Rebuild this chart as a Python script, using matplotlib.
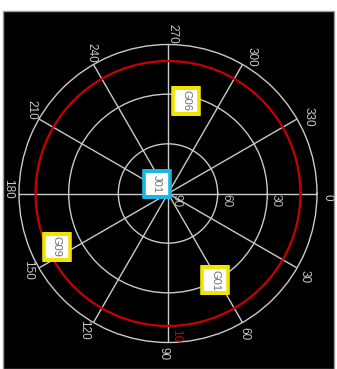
import numpy as np
import matplotlib
matplotlib.use("Agg")
import matplotlib.pyplot as plt
from matplotlib.patches import Rectangle

# Satellite positions (azimuth / elevation in degrees)
sat_names = ["J01", "G06", "G01", "G09"]
sat_azimuth = [221, 281, 61.5, 154.5]
sat_elevation = [81, 33, 30.5, 15.5]
sat_edge = ["#19b6e6", "#f2e400", "#f2e400", "#f2e400"]

elevation_mask = 10
azimuth_ticks = list(range(0, 360, 30))
elevation_ticks = [90, 60, 30]

W, H = 337, 369
fig = plt.figure(figsize=(W / 100, H / 100), dpi=100)
fig.patch.set_facecolor("white")

# black panel behind the sky plot
fig.patches.append(Rectangle((3 / W, 0), (334 - 3) / W, (358) / H,
                             transform=fig.transFigure, facecolor="black",
                             edgecolor="#9a9a9a", linewidth=1.0, zorder=-10))

cx, cy, R = 168.0, 193.5, 149.0
ax = fig.add_axes([(cx - R) / W, (H - cy - R) / H, 2 * R / W, 2 * R / H],
                  projection="polar")
ax.set_zorder(5)
ax.set_facecolor("none")
ax.set_theta_zero_location("E")
ax.set_theta_direction(-1)
ax.set_ylim(0, 90)

grid_c = "#cacaca"
ax.set_thetagrids(azimuth_ticks, labels=[])
ax.set_rgrids([30, 60], labels=[])
ax.grid(True, color=grid_c, linewidth=1.0)
ax.spines["polar"].set_color(grid_c)
ax.spines["polar"].set_linewidth(1.0)

font = "Liberation Sans"

# azimuth labels
for az in azimuth_ticks:
    ax.text(np.deg2rad(az + 1.5), 96.5, str(az), rotation=-90,
            ha="center", va="center", color=grid_c, fontsize=8.5,
            family=font, clip_on=False)

# elevation labels along the 0° spoke
for el in elevation_ticks:
    ax.annotate(str(el), xy=(0, 90 - el), xytext=(8.5, -7),
                textcoords="offset pixels", rotation=-90,
                ha="center", va="center", color="#bdbdbd", fontsize=8.5,
                family=font, annotation_clip=False)

# elevation mask circle
th = np.linspace(0, 2 * np.pi, 361)
ax.plot(th, np.full_like(th, 90 - elevation_mask), color="#c80000",
        linewidth=1.6)
ax.annotate(str(elevation_mask), xy=(np.pi / 2, 90 - elevation_mask),
            xytext=(8.5, -10), textcoords="offset pixels", rotation=-90,
            ha="center", va="center", color="#c80000", fontsize=8.5,
            family=font, annotation_clip=False)

# satellites
for name, az, el, ec in zip(sat_names, sat_azimuth, sat_elevation, sat_edge):
    t, r = np.deg2rad(az), 90 - el
    ax.plot([t], [r], marker="s", markersize=18.5, markerfacecolor="white",
            markeredgecolor=ec, markeredgewidth=2.6, zorder=5)
    ax.text(t, r, name, rotation=-90, ha="center", va="center",
            color="#707070", fontsize=8, family=font, zorder=6)

fig.savefig("out.png", dpi=100, facecolor=fig.get_facecolor())
